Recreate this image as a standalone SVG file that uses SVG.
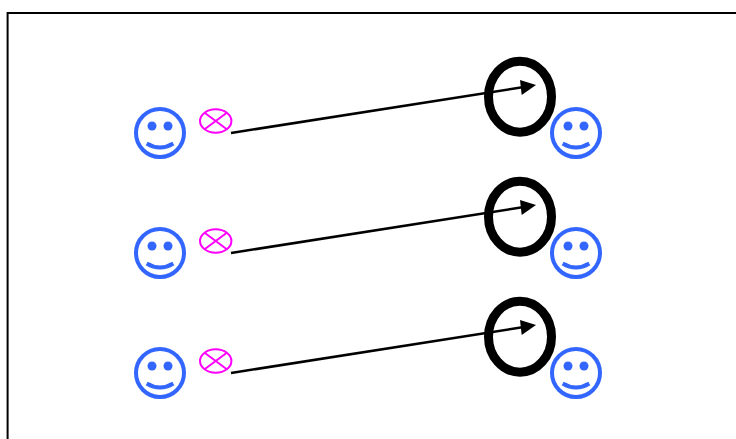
<svg xmlns="http://www.w3.org/2000/svg" width="736" height="439" viewBox="0 0 736 439">
<style>
.frame{fill:#fff;stroke:#000;stroke-width:2}
.face{fill:none;stroke:#3366ff;stroke-width:4}
.eye{fill:#3366ff}
.smile{fill:none;stroke:#3366ff;stroke-width:4}
.cross{fill:none;stroke:#ff00ff;stroke-width:2}
.ring{fill:none;stroke:#000;stroke-width:9}
.conn{fill:none;stroke:#000;stroke-width:2.5}
.head{fill:#000}
</style>
<defs>
<g id="smiley">
<circle class="face" cx="0" cy="0" r="24"/>
<circle class="eye" cx="-8" cy="-7" r="4.5"/>
<circle class="eye" cx="8" cy="-7" r="4.5"/>
<path class="smile" d="M-13.3 10.5Q0 18.5 13.3 10.5"/>
</g>
<g id="xor">
<ellipse class="cross" cx="0" cy="0" rx="15.7" ry="11.7"/>
<path class="cross" d="M-11.1 -8.3L11.1 8.3M-11.1 8.3L11.1 -8.3"/>
</g>
</defs>
<rect id="frame" class="frame" x="7.6" y="13" width="740" height="440"/>
<g id="connectors">
<path class="conn" d="M231 133L524 87"/>
<path class="head" d="M536 85L521.7 95L520 80Z"/>
<path class="conn" d="M231 253L524 207"/>
<path class="head" d="M536 205L521.7 215L520 200Z"/>
<path class="conn" d="M231 373L524 327"/>
<path class="head" d="M536 325L521.7 335L520 320Z"/>
</g>
<g id="left-face-1"><use href="#smiley" x="160" y="133"/></g>
<g id="xor-1"><use href="#xor" x="215.7" y="121"/></g>
<g id="ring-1"><ellipse class="ring" cx="520" cy="96.7" rx="31.5" ry="35.5"/></g>
<g id="right-face-1"><use href="#smiley" x="576" y="133"/></g>
<g id="left-face-2"><use href="#smiley" x="160" y="253"/></g>
<g id="xor-2"><use href="#xor" x="215.7" y="241"/></g>
<g id="ring-2"><ellipse class="ring" cx="520" cy="216.7" rx="31.5" ry="35.5"/></g>
<g id="right-face-2"><use href="#smiley" x="576" y="253"/></g>
<g id="left-face-3"><use href="#smiley" x="160" y="373"/></g>
<g id="xor-3"><use href="#xor" x="215.7" y="361"/></g>
<g id="ring-3"><ellipse class="ring" cx="520" cy="336.7" rx="31.5" ry="35.5"/></g>
<g id="right-face-3"><use href="#smiley" x="576" y="373"/></g>
</svg>
